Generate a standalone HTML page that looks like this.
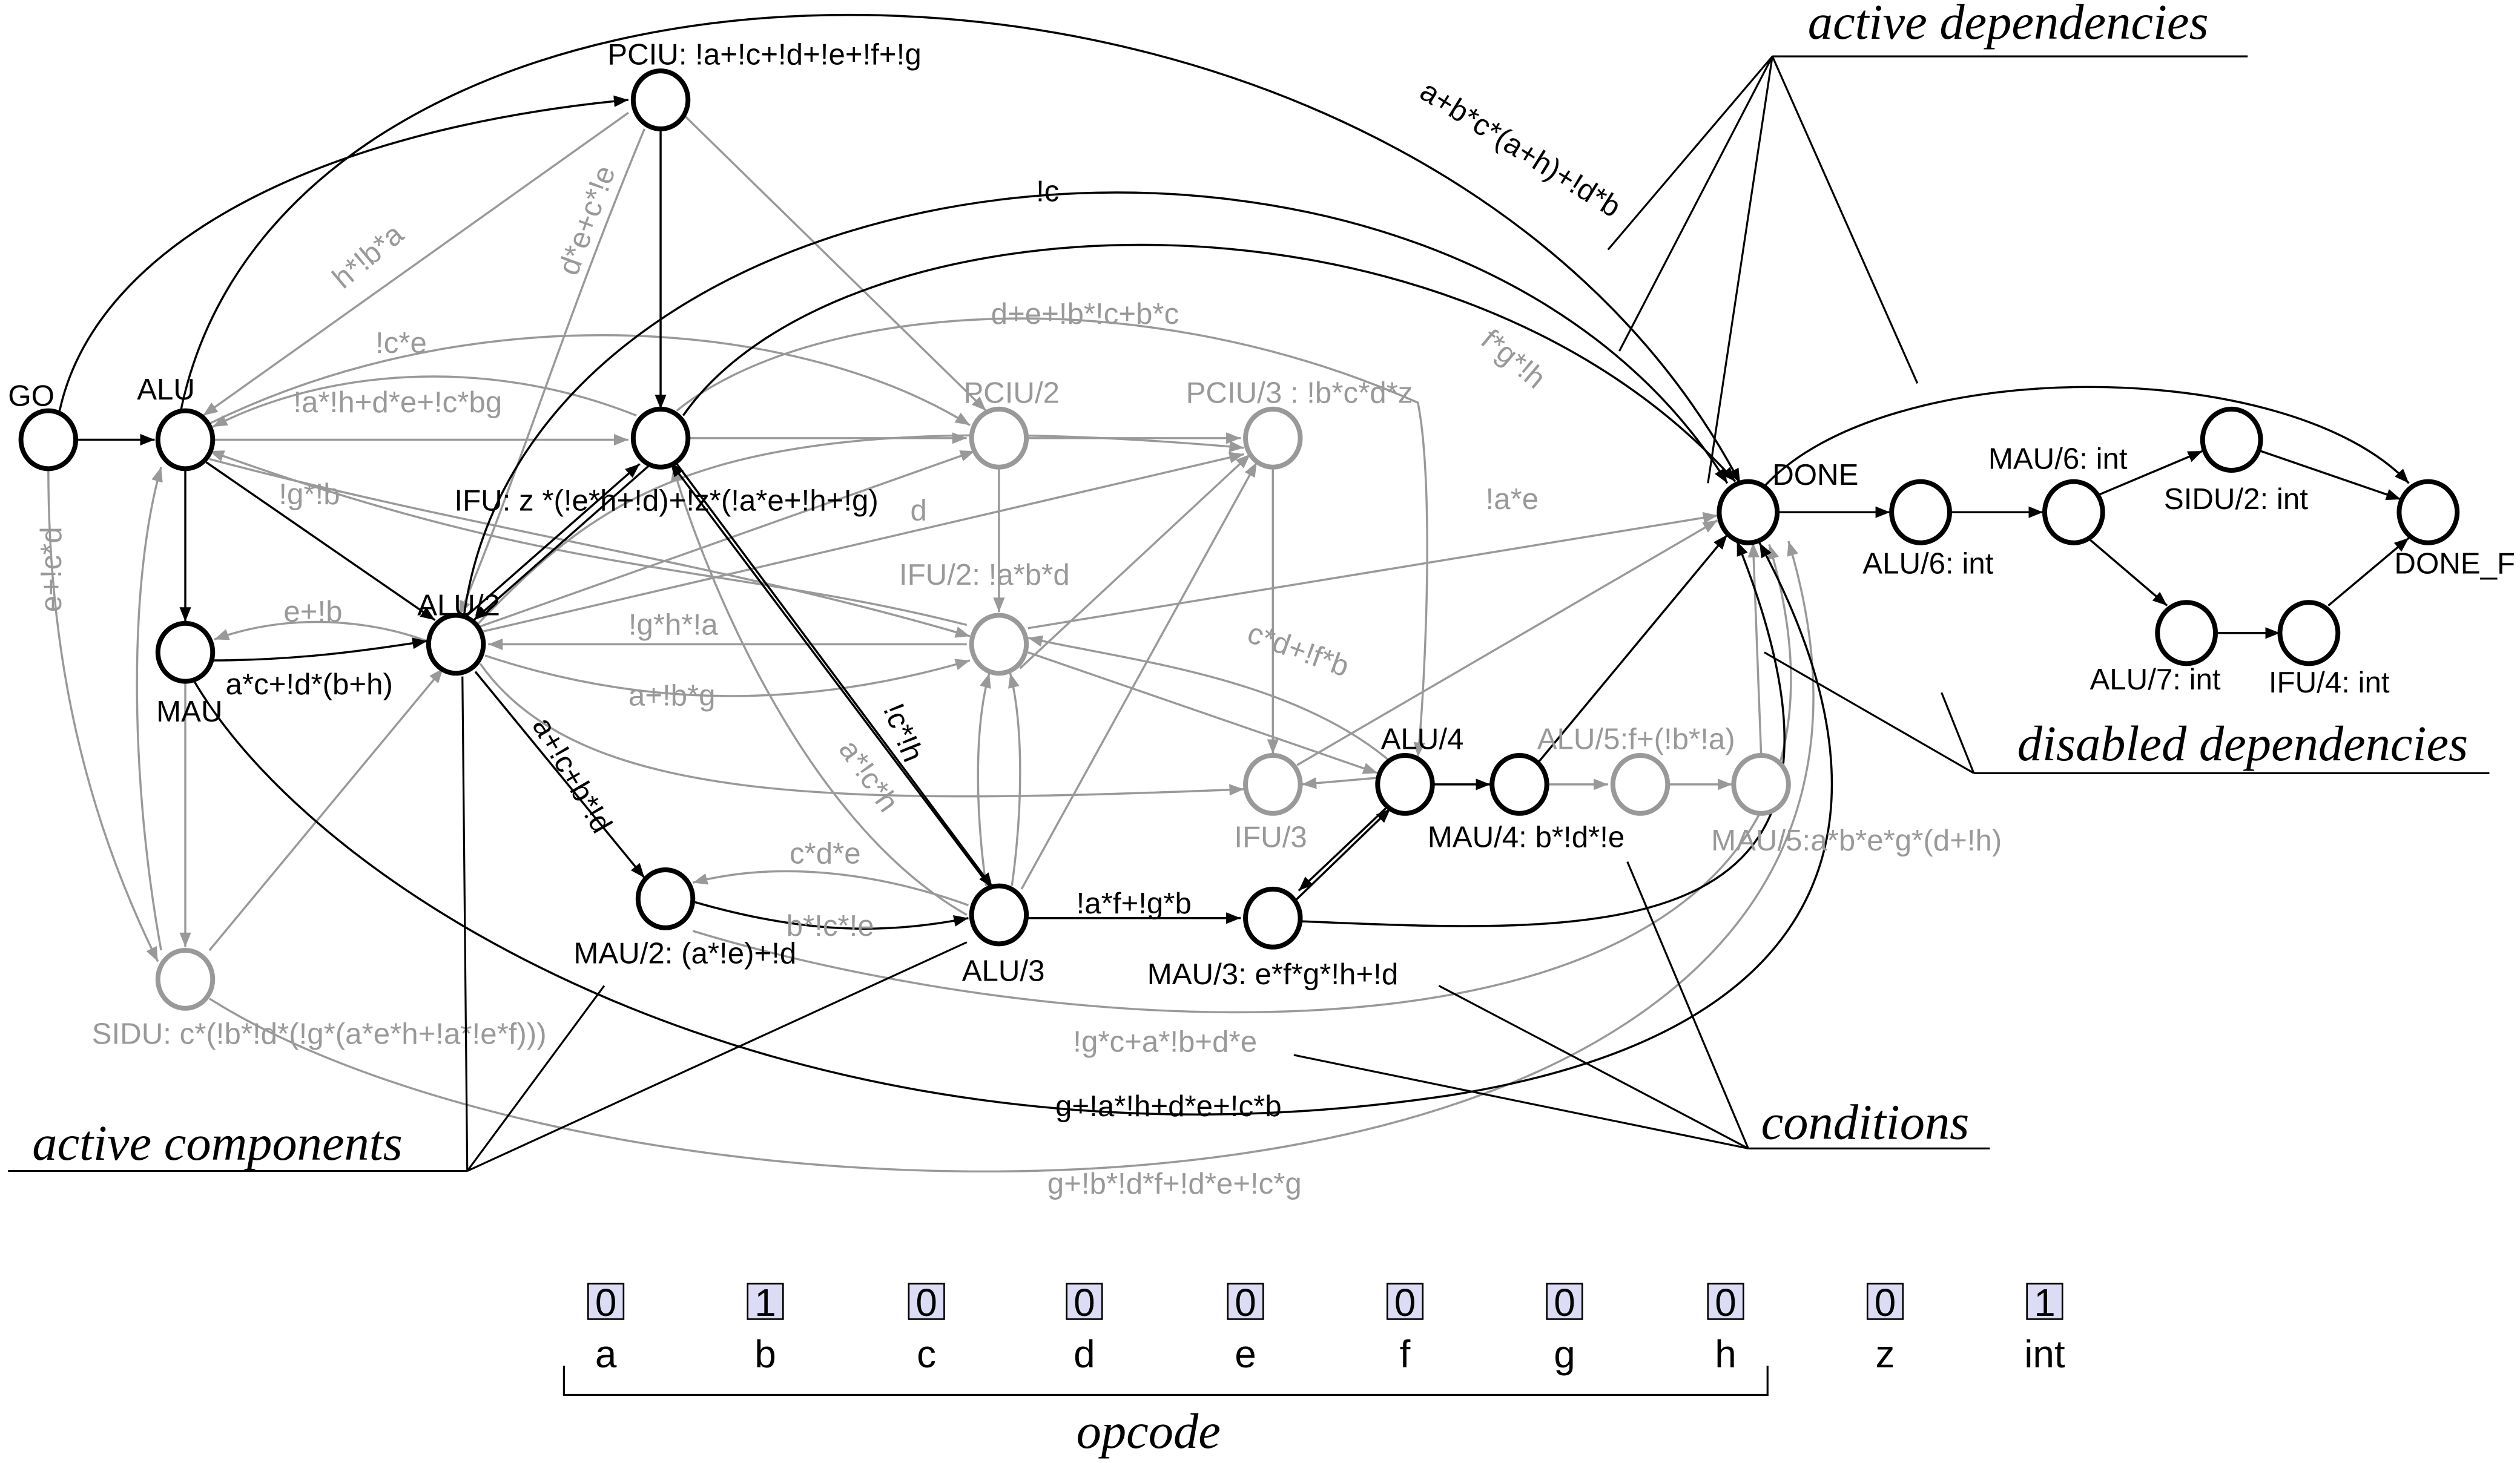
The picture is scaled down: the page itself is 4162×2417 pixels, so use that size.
<!DOCTYPE html>
<html><head><meta charset="utf-8"><style>
html,body{margin:0;padding:0;background:#fff;}
svg{display:block;}
text{font-family:"Liberation Sans",sans-serif;font-size:18.5px;}
.k{fill:#000}.g{fill:#999}
.big{font-size:24px;}
.it{font-family:"Liberation Serif",serif;font-style:italic;font-size:31px;fill:#000}
</style></head><body>
<svg width="4162" height="2417" viewBox="0 0 1564 908.3" preserveAspectRatio="none" xmlns="http://www.w3.org/2000/svg">
<defs>
<marker id="ab" viewBox="0 0 10 10" refX="10" refY="5" markerWidth="9" markerHeight="9" markerUnits="userSpaceOnUse" orient="auto"><path d="M0,1 L10,5 L0,9z" fill="#000"/></marker>
<marker id="ag" viewBox="0 0 10 10" refX="10" refY="5" markerWidth="9" markerHeight="9" markerUnits="userSpaceOnUse" orient="auto"><path d="M0,1 L10,5 L0,9z" fill="#999"/></marker>
</defs>
<rect width="1564" height="908.3" fill="#fff"/>

<g fill="none" stroke="#999" stroke-width="1.3" marker-end="url(#ag)">
<path d="M126,273 L390,273"/>
<path d="M428,272 L600,272"/>
<path d="M638,272 L770,272"/>
<path d="M620,290 L620,380"/>
<path d="M600,400 L303,400"/>
<path d="M600,388 C450,350 350,360 130,280"/>
<path d="M395,258 C300,220 200,230 132,265"/>
<path d="M130,263 C300,180 500,200 602,264"/>
<path d="M390,70 L126,258"/>
<path d="M400,80 C350,200 320,300 285,382"/>
<path d="M265,398 C230,385 180,380 133,397"/>
<path d="M301,407 C400,440 500,440 602,410"/>
<path d="M130,285 C300,330 450,350 602,395"/>
<path d="M300,392 L772,282"/>
<path d="M295,390 L605,280"/>
<path d="M296,388 C380,300 450,250 772,278"/>
<path d="M420,255 C500,190 700,170 880,250 C890,300 885,420 880,470"/>
<path d="M423,70 L612,255"/>
<path d="M790,290 L790,468"/>
<path d="M633,415 L776,282"/>
<path d="M612,550 C605,500 605,450 614,418"/>
<path d="M628,550 C635,500 635,450 627,418"/>
<path d="M634,552 L780,287"/>
<path d="M298,412 C360,500 520,500 772,490"/>
<path d="M854,483 L808,487"/>
<path d="M862,472 C800,420 700,410 638,396"/>
<path d="M638,405 L855,480"/>
<path d="M805,475 L1066,323"/>
<path d="M638,390 L1066,320"/>
<path d="M960,487 L998,487"/>
<path d="M1036,487 L1075,487"/>
<path d="M1093,468 L1088,337"/>
<path d="M601,562 C540,540 480,535 430,548"/>
<path d="M600,568 C480,500 420,300 418,290"/>
<path d="M115,423 L115,588"/>
<path d="M100,590 C80,480 80,360 100,290"/>
<path d="M130,590 L275,415"/>
<path d="M30,291 C30,400 50,500 98,597"/>
<path d="M430,578 C700,660 1200,680 1098,338"/>
<path d="M130,620 C400,790 1250,800 1110,336"/>
</g>

<g fill="none" stroke="#000" stroke-width="1.3" marker-end="url(#ab)">
<path d="M48,273 L96,273"/>
<path d="M37,255 C60,150 200,80 390,62"/>
<path d="M115,291 L115,386"/>
<path d="M128,287 L270,385"/>
<path d="M131,410 C180,410 220,405 265,398"/>
<path d="M410,80 L410,254"/>
<path d="M290,382 L397,288"/>
<path d="M404,288 L294,385"/>
<path d="M288,382 C330,80 900,20 1072,300"/>
<path d="M424,258 C520,120 900,100 1077,299"/>
<path d="M112,256 C180,-80 880,-80 1080,300"/>
<path d="M295,417 L400,545"/>
<path d="M431,560 C500,580 550,580 601,570"/>
<path d="M614,550 L416,287"/>
<path d="M420,288 L616,551"/>
<path d="M638,570 L770,570"/>
<path d="M803,560 L863,502"/>
<path d="M862,500 L806,553"/>
<path d="M890,487 L925,487"/>
<path d="M955,473 L1072,332"/>
<path d="M808,572 C1000,580 1180,590 1078,336"/>
<path d="M120,422 C200,560 500,740 900,680 C1150,640 1180,500 1092,337"/>
<path d="M1103,318 L1173,318"/>
<path d="M1210,318 L1268,318"/>
<path d="M1303,307 L1367,280"/>
<path d="M1403,280 L1490,310"/>
<path d="M1297,335 L1345,376"/>
<path d="M1375,393 L1415,393"/>
<path d="M1445,376 L1495,334"/>
<path d="M1095,302 C1170,220 1420,220 1495,300"/>
</g>

<g fill="#fff" stroke-width="3">
<g stroke="#000">
<ellipse cx="30" cy="273" rx="17" ry="18"/>
<ellipse cx="115" cy="273" rx="17" ry="18"/>
<ellipse cx="115" cy="405" rx="17" ry="18"/>
<ellipse cx="410" cy="62" rx="17" ry="18"/>
<ellipse cx="410" cy="272" rx="17" ry="18"/>
<ellipse cx="283" cy="400" rx="17" ry="18"/>
<ellipse cx="413" cy="558" rx="17" ry="18"/>
<ellipse cx="620" cy="568" rx="17" ry="18"/>
<ellipse cx="872" cy="487" rx="17" ry="18"/>
<ellipse cx="943" cy="487" rx="17" ry="18"/>
<ellipse cx="790" cy="570" rx="17" ry="18"/>
<ellipse cx="1085" cy="318" rx="18" ry="19"/>
<ellipse cx="1192" cy="318" rx="18" ry="19"/>
<ellipse cx="1287" cy="318" rx="18" ry="19"/>
<ellipse cx="1385" cy="273" rx="18" ry="19"/>
<ellipse cx="1507" cy="318" rx="18" ry="19"/>
<ellipse cx="1357" cy="393" rx="18" ry="19"/>
<ellipse cx="1433" cy="393" rx="18" ry="19"/>
</g>
<g stroke="#999">
<ellipse cx="115" cy="608" rx="17" ry="18"/>
<ellipse cx="620" cy="272" rx="17" ry="18"/>
<ellipse cx="790" cy="272" rx="17" ry="18"/>
<ellipse cx="620" cy="400" rx="17" ry="18"/>
<ellipse cx="790" cy="487" rx="17" ry="18"/>
<ellipse cx="1018" cy="487" rx="17" ry="18"/>
<ellipse cx="1093" cy="487" rx="17" ry="18"/>
</g>
</g>

<text class="k" x="5" y="252">GO</text>
<text class="k" x="85" y="248">ALU</text>
<text class="k" x="97" y="448">MAU</text>
<text class="g" x="57" y="648">SIDU: c*(!b*!d*(!g*(a*e*h+!a*!e*f)))</text>
<text class="k" x="377" y="40">PCIU: !a+!c+!d+!e+!f+!g</text>
<text class="k" x="282" y="317">IFU: z *(!e*h+!d)+!z*(!a*e+!h+!g)</text>
<text class="k" x="259" y="382">ALU/2</text>
<text class="g" x="598" y="250">PCIU/2</text>
<text class="g" x="736" y="250">PCIU/3 : !b*c*d*z</text>
<text class="g" x="558" y="363">IFU/2: !a*b*d</text>
<text class="g" x="766" y="526">IFU/3</text>
<text class="k" x="857" y="465">ALU/4</text>
<text class="k" x="886" y="526">MAU/4: b*!d*!e</text>
<text class="g" x="954" y="465">ALU/5:f+(!b*!a)</text>
<text class="g" x="1062" y="528">MAU/5:a*b*e*g*(d+!h)</text>
<text class="k" x="712" y="611">MAU/3: e*f*g*!h+!d</text>
<text class="k" x="356" y="598">MAU/2: (a*!e)+!d</text>
<text class="k" x="597" y="609">ALU/3</text>
<text class="k" x="1100" y="301">DONE</text>
<text class="k" x="1156" y="356">ALU/6: int</text>
<text class="k" x="1234" y="291">MAU/6: int</text>
<text class="k" x="1343" y="316">SIDU/2: int</text>
<text class="k" x="1486" y="356">DONE_F</text>
<text class="k" x="1297" y="428">ALU/7: int</text>
<text class="k" x="1408" y="430">IFU/4: int</text>

<text class="g" x="213" y="180" transform="rotate(-40 213 180)">h*!b*a</text>
<text class="g" x="358" y="172" transform="rotate(-70 358 172)">d*e+c*!e</text>
<text class="g" x="182" y="256">!a*!h+d*e+!c*bg</text>
<text class="g" x="233" y="219">!c*e</text>
<text class="g" x="173" y="313">!g*!b</text>
<text class="g" x="176" y="386">e+!b</text>
<text class="k" x="140" y="431">a*c+!d*(b+h)</text>
<text class="g" x="390" y="394">!g*h*!a</text>
<text class="g" x="390" y="438">a+!b*g</text>
<text class="g" x="565" y="323">d</text>
<text class="g" x="615" y="201">d+e+!b*!c+b*c</text>
<text class="k" x="643" y="125">!c</text>
<text class="k" x="880" y="60" transform="rotate(32 880 60)">a+b*c*(a+h)+!d*b</text>
<text class="g" x="918" y="213" transform="rotate(40 918 213)">f*g*!h</text>
<text class="g" x="922" y="316">!a*e</text>
<text class="g" x="773" y="398" transform="rotate(20 773 398)">c*d+!f*b</text>
<text class="k" x="330" y="450" transform="rotate(60 330 450)">a+!c+b*!d</text>
<text class="g" x="520" y="465" transform="rotate(55 520 465)">a*!c*h</text>
<text class="k" x="548" y="440" transform="rotate(68 548 440)">!c*!h</text>
<text class="g" x="490" y="536">c*d*e</text>
<text class="g" x="488" y="581">b*!c*!e</text>
<text class="k" x="668" y="567">!a*f+!g*b</text>
<text class="g" x="666" y="653">!g*c+a*!b+d*e</text>
<text class="k" x="655" y="693">g+!a*!h+d*e+!c*b</text>
<text class="g" x="650" y="741">g+!b*!d*f+!d*e+!c*g</text>
<text class="g" x="38" y="380" transform="rotate(-90 38 380)">e+!c*d</text>

<g stroke="#000" stroke-width="1.2" fill="none">
<path d="M1100,35 L1395,35"/>
<path d="M1100,35 L998,155 M1100,35 L1005,218 M1100,35 L1190,238 M1100,35 L1060,300"/>
<path d="M1225,480 L1545,480 M1225,480 L1095,405 M1225,480 L1205,430"/>
<path d="M1085,713 L1235,713 M1085,713 L1010,535 M1085,713 L893,612 M1085,713 L803,655"/>
<path d="M5,727 L290,727 M290,727 L287,420 M290,727 L375,612 M290,727 L600,585"/>
<path d="M350,848 L350,866 L1097,866 L1097,848"/>
</g>
<text class="it" x="1122" y="24">active dependencies</text>
<text class="it" x="1252" y="472">disabled dependencies</text>
<text class="it" x="1093" y="707">conditions</text>
<text class="it" x="20" y="720">active components</text>
<text class="it" x="668" y="899">opcode</text>

<g stroke="#000" stroke-width="1" fill="#dcdcf5">
<rect x="365" y="797" width="22" height="22"/>
<rect x="464" y="797" width="22" height="22"/>
<rect x="564" y="797" width="22" height="22"/>
<rect x="662" y="797" width="22" height="22"/>
<rect x="762" y="797" width="22" height="22"/>
<rect x="861" y="797" width="22" height="22"/>
<rect x="960" y="797" width="22" height="22"/>
<rect x="1060" y="797" width="22" height="22"/>
<rect x="1159" y="797" width="22" height="22"/>
<rect x="1258" y="797" width="22" height="22"/>
</g>
<g text-anchor="middle">
<text class="k big" x="376" y="817">0</text><text class="k big" x="475" y="817">1</text><text class="k big" x="575" y="817">0</text><text class="k big" x="673" y="817">0</text><text class="k big" x="773" y="817">0</text><text class="k big" x="872" y="817">0</text><text class="k big" x="971" y="817">0</text><text class="k big" x="1071" y="817">0</text><text class="k big" x="1170" y="817">0</text><text class="k big" x="1269" y="817">1</text>
<text class="k big" x="376" y="849">a</text><text class="k big" x="475" y="849">b</text><text class="k big" x="575" y="849">c</text><text class="k big" x="673" y="849">d</text><text class="k big" x="773" y="849">e</text><text class="k big" x="872" y="849">f</text><text class="k big" x="971" y="849">g</text><text class="k big" x="1071" y="849">h</text><text class="k big" x="1170" y="849">z</text><text class="k big" x="1269" y="849">int</text>
</g>
</svg>
</body></html>
